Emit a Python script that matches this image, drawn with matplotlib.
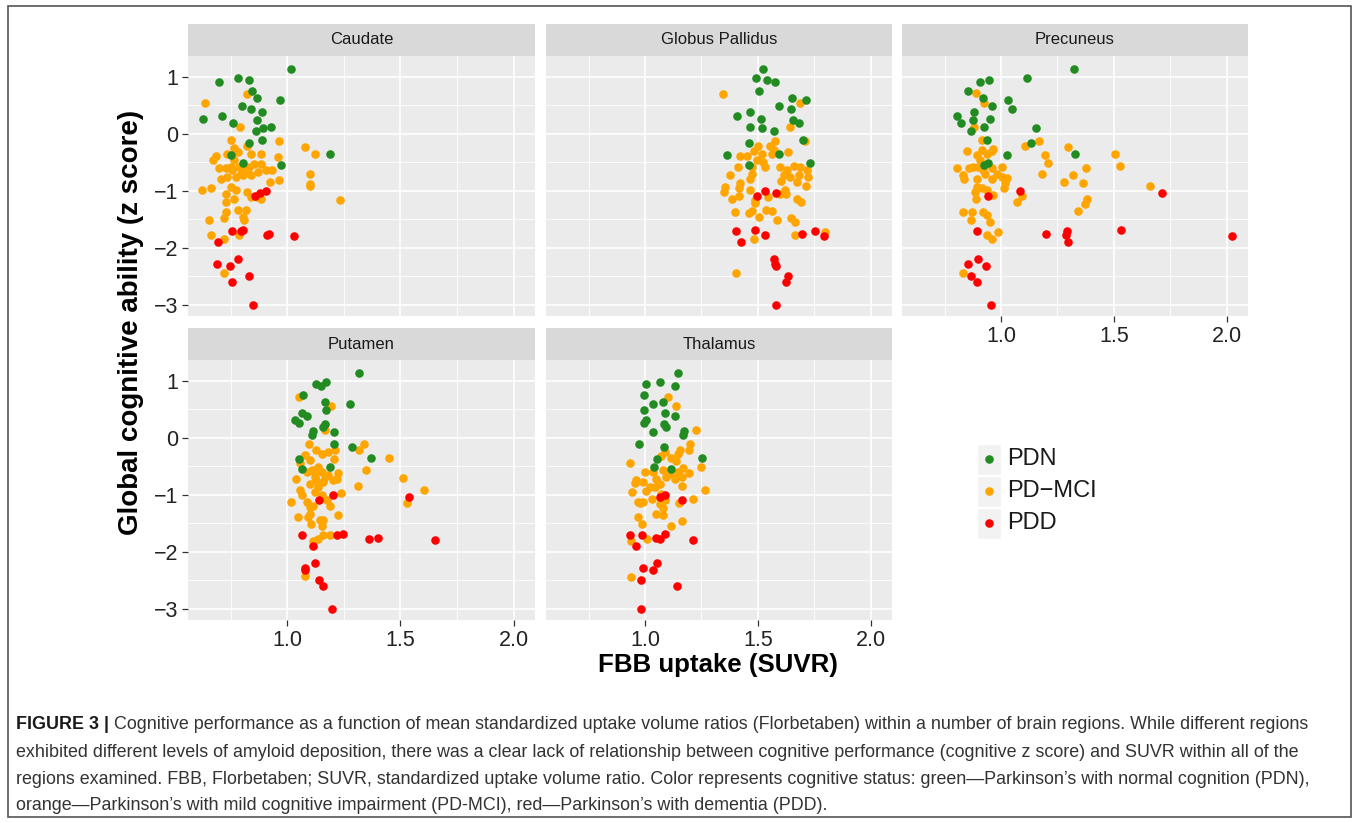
import matplotlib
matplotlib.use("Agg")
import matplotlib.pyplot as plt
from matplotlib import font_manager
from matplotlib.patches import Rectangle

plt.rcParams['font.family'] = ['Liberation Sans', 'DejaVu Sans']

regions = ['Caudate', 'Globus Pallidus', 'Precuneus', 'Putamen', 'Thalamus']
groups = ['PDN', 'PD\u2212MCI', 'PDD']
colors = ['forestgreen', 'orange', 'red']

# cognitive z score, same subjects in every region
pdn_z = [1.14, 0.98, 0.94, 0.90, 0.75, 0.62, 0.59, 0.48, 0.43, 0.38, 0.31, 0.26,
         0.24, 0.19, 0.12, 0.09, 0.05, -0.11, -0.16, -0.35, -0.37, -0.52, -0.55]
pdd_z = [-1.01, -1.04, -1.10, -1.68, -1.70, -1.70, -1.75, -1.78, -1.80, -1.89,
         -2.19, -2.28, -2.32, -2.50, -2.60, -3.00]

# FBB uptake (SUVR), PDN
caudate_pdn_x = [1.018, 0.780, 0.829, 0.699, 0.845, 0.868, 0.967, 0.799, 0.841, 0.890, 0.711, 0.626,
                 0.865, 0.760, 0.930, 0.893, 0.860, 0.890, 0.830, 1.190, 0.753, 0.805, 0.973]
pallidus_pdn_x = [1.524, 1.494, 1.539, 1.576, 1.504, 1.650, 1.714, 1.593, 1.645, 1.467, 1.410, 1.512,
                  1.657, 1.682, 1.464, 1.518, 1.574, 1.702, 1.460, 1.596, 1.362, 1.730, 1.461]
precuneus_pdn_x = [1.322, 1.114, 0.945, 0.905, 0.855, 0.920, 1.032, 0.960, 1.050, 0.880, 0.804, 0.953,
                   0.876, 0.824, 0.925, 1.155, 0.867, 0.938, 1.131, 1.328, 1.028, 0.941, 0.923]
putamen_pdn_x = [1.318, 1.173, 1.126, 1.150, 1.070, 1.165, 1.277, 1.171, 1.067, 1.086, 1.033, 1.051,
                 1.168, 1.160, 1.115, 1.207, 1.109, 1.207, 1.284, 1.372, 1.052, 1.189, 1.067]
thalamus_pdn_x = [1.148, 1.068, 1.006, 1.132, 0.996, 1.080, 1.037, 0.994, 1.089, 1.134, 1.003, 0.997,
                  1.082, 1.092, 1.175, 1.034, 1.169, 0.972, 1.082, 1.252, 1.052, 1.042, 1.113]

# FBB uptake (SUVR), PDD
caudate_pdd_x = [0.905, 0.881, 0.856, 0.804, 0.757, 0.795, 0.917, 0.912, 1.031, 0.693,
                 0.781, 0.688, 0.746, 0.832, 0.754, 0.850]
pallidus_pdd_x = [1.533, 1.580, 1.497, 1.487, 1.404, 1.754, 1.696, 1.530, 1.792, 1.426,
                  1.570, 1.577, 1.582, 1.636, 1.626, 1.580]
precuneus_pdd_x = [1.083, 1.713, 0.941, 1.533, 0.894, 1.294, 1.201, 1.290, 2.025, 1.298,
                   0.898, 0.854, 0.932, 0.867, 0.895, 0.954]
putamen_pdd_x = [1.204, 1.540, 1.138, 1.246, 1.063, 1.220, 1.402, 1.360, 1.653, 1.113,
                 1.121, 1.077, 1.079, 1.138, 1.156, 1.198]
thalamus_pdd_x = [1.089, 1.065, 1.166, 1.089, 0.935, 0.985, 1.050, 1.065, 1.212, 0.961,
                  1.053, 0.993, 1.037, 0.984, 1.144, 0.984]

# PD-MCI, read per panel
caudate_mci_x = [0.634, 0.821, 0.790, 0.750, 0.963, 0.824, 1.080, 1.121, 0.765, 0.735, 0.780, 0.839,
                 0.884, 0.961, 0.683, 0.671, 0.698, 0.728, 0.757, 0.787, 0.817, 0.854, 0.884, 0.906,
                 0.933, 1.100, 1.100, 1.100, 0.705, 0.735, 0.772, 0.802, 0.839, 0.869, 0.924, 0.963,
                 0.621, 0.664, 0.750, 0.772, 0.728, 0.728, 0.765, 0.820, 0.884, 0.865, 0.780, 0.817,
                 0.728, 0.720, 0.802, 0.810, 0.653, 0.661, 0.720, 0.787, 1.235, 0.720, 0.750, 0.832,
                 0.795, 0.765, 0.839]
caudate_mci_z = [0.54, 0.70, 0.12, -0.12, -0.13, -0.22, -0.23, -0.36, -0.26, -0.35, -0.32, -0.36,
                 -0.35, -0.41, -0.40, -0.47, -0.61, -0.61, -0.64, -0.58, -0.64, -0.53, -0.53, -0.64,
                 -0.64, -0.71, -0.88, -0.92, -0.79, -0.76, -0.76, -0.73, -0.73, -0.67, -0.85, -0.82,
                 -0.98, -0.96, -0.93, -0.99, -1.06, -1.19, -1.15, -1.02, -1.14, -1.11, -1.34, -1.34,
                 -1.37, -1.47, -1.46, -1.52, -1.52, -1.78, -1.84, -1.78, -1.16, -2.45, -0.58, -0.58,
                 -0.70, -0.47, -1.11]
pallidus_mci_x = [1.346, 1.688, 1.641, 1.711, 1.503, 1.481, 1.555, 1.577, 1.636, 1.421, 1.451, 1.518,
                  1.562, 1.496, 1.525, 1.414, 1.377, 1.473, 1.473, 1.533, 1.599, 1.629, 1.659, 1.688,
                  1.718, 1.614, 1.644, 1.681, 1.721, 1.674, 1.602, 1.466, 1.421, 1.418, 1.355, 1.350,
                  1.466, 1.622, 1.599, 1.626, 1.712, 1.387, 1.417, 1.488, 1.488, 1.547, 1.674, 1.691,
                  1.399, 1.463, 1.473, 1.537, 1.562, 1.507, 1.585, 1.647, 1.663, 1.481, 1.666, 1.800,
                  1.405, 1.570]
pallidus_mci_z = [0.70, 0.54, 0.12, -0.13, -0.22, -0.30, -0.22, -0.13, -0.32, -0.40, -0.40, -0.35,
                  -0.35, -0.47, -0.50, -0.58, -0.73, -0.58, -0.70, -0.58, -0.58, -0.64, -0.56, -0.58,
                  -0.63, -0.73, -0.76, -0.73, -0.76, -0.85, -0.83, -0.79, -0.86, -0.96, -0.93, -1.02,
                  -0.98, -0.99, -1.05, -1.06, -0.92, -1.15, -1.10, -1.17, -1.21, -1.11, -1.15, -1.19,
                  -1.37, -1.39, -1.35, -1.34, -1.35, -1.46, -1.52, -1.47, -1.55, -1.84, -1.78, -1.72,
                  -2.45, -0.29]
precuneus_mci_x = [0.891, 0.923, 0.880, 0.914, 0.966, 0.848, 0.892, 0.914, 0.936, 0.959, 0.907, 0.877,
                   0.806, 0.860, 0.922, 0.959, 1.003, 0.981, 1.025, 0.833, 0.836, 0.892, 0.959, 1.003,
                   1.018, 0.892, 0.914, 0.936, 0.885, 0.966, 0.888, 1.013, 1.092, 1.069, 0.833, 0.870,
                   0.866, 0.922, 0.936, 0.951, 0.939, 0.959, 0.988, 1.105, 1.170, 1.195, 1.210, 1.180,
                   1.297, 1.377, 1.321, 1.279, 1.362, 1.383, 1.374, 1.343, 1.507, 1.527, 1.660, 0.833,
                   0.929, 0.900]
precuneus_mci_z = [0.71, 0.54, 0.12, -0.12, -0.27, -0.31, -0.38, -0.29, -0.35, -0.31, -0.47, -0.58,
                   -0.60, -0.61, -0.64, -0.61, -0.58, -0.70, -0.78, -0.73, -0.80, -0.79, -0.79, -0.76,
                   -0.86, -0.93, -0.96, -0.99, -1.02, -1.08, -1.15, -0.96, -1.09, -1.19, -1.38, -1.38,
                   -1.52, -1.38, -1.43, -1.55, -1.78, -1.84, -1.72, -0.22, -0.13, -0.37, -0.51, -0.70,
                   -0.23, -0.61, -0.72, -0.85, -0.86, -1.14, -1.23, -1.35, -0.36, -0.57, -0.92, -2.45,
                   -0.70, -0.58]
putamen_mci_x = [1.051, 1.193, 1.167, 1.095, 1.126, 1.338, 1.318, 1.449, 1.080, 1.100, 1.055, 1.152,
                 1.182, 1.211, 1.208, 1.107, 1.137, 1.085, 1.122, 1.152, 1.182, 1.226, 1.040, 1.100,
                 1.129, 1.159, 1.204, 1.219, 1.348, 1.512, 1.313, 1.055, 1.063, 1.122, 1.152, 1.238,
                 1.018, 1.085, 1.115, 1.174, 1.189, 1.528, 1.048, 1.100, 1.092, 1.226, 1.144, 1.159,
                 1.104, 1.152, 1.159, 1.137, 1.189, 1.115, 1.079, 1.603, 1.122, 1.167, 1.137, 1.100]
putamen_mci_z = [0.71, 0.55, 0.13, -0.12, -0.21, -0.12, -0.22, -0.35, -0.31, -0.39, -0.44, -0.28,
                 -0.25, -0.21, -0.37, -0.57, -0.51, -0.60, -0.62, -0.60, -0.66, -0.62, -0.72, -0.81,
                 -0.75, -0.78, -0.75, -0.72, -0.56, -0.70, -0.85, -0.92, -1.01, -0.95, -1.01, -0.97,
                 -1.13, -1.13, -1.20, -1.10, -1.19, -1.14, -1.39, -1.33, -1.39, -1.35, -1.45, -1.45,
                 -1.52, -1.54, -1.71, -1.77, -1.71, -1.81, -2.43, -0.92, -0.69, -0.69, -0.86, -1.21]
thalamus_mci_x = [1.101, 1.136, 1.224, 1.199, 1.196, 1.154, 1.088, 1.073, 1.117, 1.147, 0.932, 1.248,
                  0.999, 1.036, 1.080, 1.110, 1.147, 1.169, 1.196, 0.961, 0.954, 0.991, 1.050, 1.095,
                  1.132, 1.162, 1.166, 1.065, 1.021, 0.941, 1.006, 1.033, 1.073, 0.969, 0.991, 1.065,
                  1.088, 1.151, 1.211, 1.266, 1.080, 1.050, 1.080, 0.967, 0.988, 1.117, 1.162, 1.009,
                  0.939, 0.939, 1.136, 1.043, 0.976]
thalamus_mci_z = [0.71, 0.55, 0.13, -0.11, -0.22, -0.21, -0.25, -0.33, -0.35, -0.28, -0.44, -0.51,
                  -0.60, -0.60, -0.57, -0.63, -0.60, -0.54, -0.62, -0.75, -0.79, -0.78, -0.72, -0.69,
                  -0.72, -0.69, -0.84, -0.81, -0.86, -0.95, -0.93, -1.07, -0.98, -1.13, -1.13, -1.16,
                  -1.10, -1.14, -1.08, -0.91, -1.24, -1.33, -1.36, -1.39, -1.52, -1.54, -1.46, -1.77,
                  -1.81, -2.44, -0.41, -0.86, -1.14]

x_ticks = [1.0, 1.5, 2.0]
x_minor = [0.75, 1.25, 1.75]
y_ticks = [-3, -2, -1, 0, 1]
y_minor = [-2.5, -1.5, -0.5, 0.5]

caption_lines = [
    'Cognitive performance as a function of mean standardized uptake volume ratios (Florbetaben) within a number of brain regions. While different regions',
    'exhibited different levels of amyloid deposition, there was a clear lack of relationship between cognitive performance (cognitive z score) and SUVR within all of the',
    'regions examined. FBB, Florbetaben; SUVR, standardized uptake volume ratio. Color represents cognitive status: green\u2014Parkinson\u2019s with normal cognition (PDN),',
    'orange\u2014Parkinson\u2019s with mild cognitive impairment (PD-MCI), red\u2014Parkinson\u2019s with dementia (PDD).',
]

panel_data = {
    'Caudate': (caudate_pdn_x, caudate_mci_x, caudate_mci_z, caudate_pdd_x),
    'Globus Pallidus': (pallidus_pdn_x, pallidus_mci_x, pallidus_mci_z, pallidus_pdd_x),
    'Precuneus': (precuneus_pdn_x, precuneus_mci_x, precuneus_mci_z, precuneus_pdd_x),
    'Putamen': (putamen_pdn_x, putamen_mci_x, putamen_mci_z, putamen_pdd_x),
    'Thalamus': (thalamus_pdn_x, thalamus_mci_x, thalamus_mci_z, thalamus_pdd_x),
}

W, H = 1358, 823
fig = plt.figure(figsize=(W / 100, H / 100), dpi=100)


def px_axes(x0, y0, x1, y1):
    return fig.add_axes([x0 / W, 1 - y1 / H, (x1 - x0) / W, (y1 - y0) / H])


cols = [(188, 535), (546, 892), (902, 1248)]
rows = [(24, 56, 316), (328, 360, 620)]
cells = [(0, 0), (0, 1), (0, 2), (1, 0), (1, 1)]
dot = 38

for name, (r, c) in zip(regions, cells):
    x0, x1 = cols[c]
    s0, p0, p1 = rows[r]
    pdn_x, mci_x, mci_z, pdd_x = panel_data[name]

    ax = px_axes(x0, p0, x1, p1)
    ax.set_facecolor('#ebebeb')
    for sp in ax.spines.values():
        sp.set_visible(False)
    ax.scatter(mci_x, mci_z, s=dot, color=colors[1], linewidths=0, zorder=3)
    ax.scatter(pdn_x, pdn_z, s=dot, color=colors[0], linewidths=0, zorder=3)
    ax.scatter(pdd_x, pdd_z, s=dot, color=colors[2], linewidths=0, zorder=3)
    ax.set_xlim(0.561, 2.095)
    ax.set_ylim(-3.195, 1.36)
    ax.set_xticks(x_ticks)
    ax.set_xticks(x_minor, minor=True)
    ax.set_yticks(y_ticks)
    ax.set_yticks(y_minor, minor=True)
    ax.set_xticklabels(['1.0', '1.5', '2.0'])
    ax.grid(which='major', color='white', linewidth=1.2)
    ax.grid(which='minor', color='white', linewidth=0.6)
    ax.set_axisbelow(True)
    ax.tick_params(which='minor', length=0)
    ax.tick_params(which='major', length=4, width=0.9, color='#333333',
                   labelsize=15.5, labelcolor='#222222', pad=3)
    show_x = name in ('Precuneus', 'Putamen', 'Thalamus')
    show_y = c == 0
    if not show_x:
        ax.tick_params(axis='x', length=0, labelbottom=False)
    if not show_y:
        ax.tick_params(axis='y', length=0, labelleft=False)

    st = px_axes(x0, s0, x1, p0)
    st.set_facecolor('#d9d9d9')
    st.set_xticks([])
    st.set_yticks([])
    for sp in st.spines.values():
        sp.set_visible(False)
    st.text(0.5, 0.5, name, ha='center', va='center', fontsize=12, color='#1a1a1a',
            transform=st.transAxes)

# axis titles
fig.text(718 / W, 1 - 665 / H, 'FBB uptake (SUVR)', ha='center', va='center',
         fontsize=18.6, weight='bold')
fig.text(131 / W, 1 - 322 / H, 'Global cognitive ability (z score)', ha='center',
         va='center', rotation=90, fontsize=20, weight='bold')

# legend
lg = px_axes(975, 443, 1120, 541)
lg.set_xlim(975, 1120)
lg.set_ylim(541, 443)
lg.axis('off')
for i, (lab, col) in enumerate(zip(groups, colors)):
    top = 444 + i * 32
    lg.add_patch(Rectangle((977, top), 24, 31, facecolor='#f2f2f2', edgecolor='white', lw=1))
    lg.scatter([989], [top + 15.5], s=dot, color=col, linewidths=0, zorder=3)
    lg.text(1007, top + 15.5, lab, ha='left', va='center', fontsize=17, color='#1a1a1a')

# caption
try:
    font_manager.findfont(font_manager.FontProperties(family='Liberation Sans Narrow'),
                          fallback_to_default=False)
    cap_family = ['Liberation Sans Narrow', 'DejaVu Sans']
except ValueError:
    cap_family = ['Liberation Sans', 'DejaVu Sans']

cap = fig.add_axes([0, 0, 1, 1])
cap.set_xlim(0, W)
cap.set_ylim(H, 0)
cap.axis('off')

probe = cap.text(16, 757, caption_lines[1], family=cap_family, fontsize=12)
fig.canvas.draw()
rend = fig.canvas.get_renderer()
wpx = probe.get_window_extent(rend).width
probe.remove()
cap_size = 12 * 1282 / wpx

baselines = [729, 757, 784, 810]
head = cap.text(16, baselines[0], 'FIGURE 3 |', family=cap_family, fontsize=cap_size,
                weight='bold', color='#1a1a1a', va='baseline')
cap.annotate(' ' + caption_lines[0], xy=(1, 0), xycoords=head, va='bottom', ha='left',
             family=cap_family, fontsize=cap_size, color='#333333', annotation_clip=False)
for line, yb in zip(caption_lines[1:], baselines[1:]):
    cap.text(16, yb, line, family=cap_family, fontsize=cap_size, color='#333333', va='baseline')

# outer frame
fig.add_artist(Rectangle((7.5 / W, 1 - 817 / H), 1343 / W, 811 / H, transform=fig.transFigure,
                         fill=False, edgecolor='#555555', linewidth=1.2))

fig.savefig('out.png', dpi=100)
